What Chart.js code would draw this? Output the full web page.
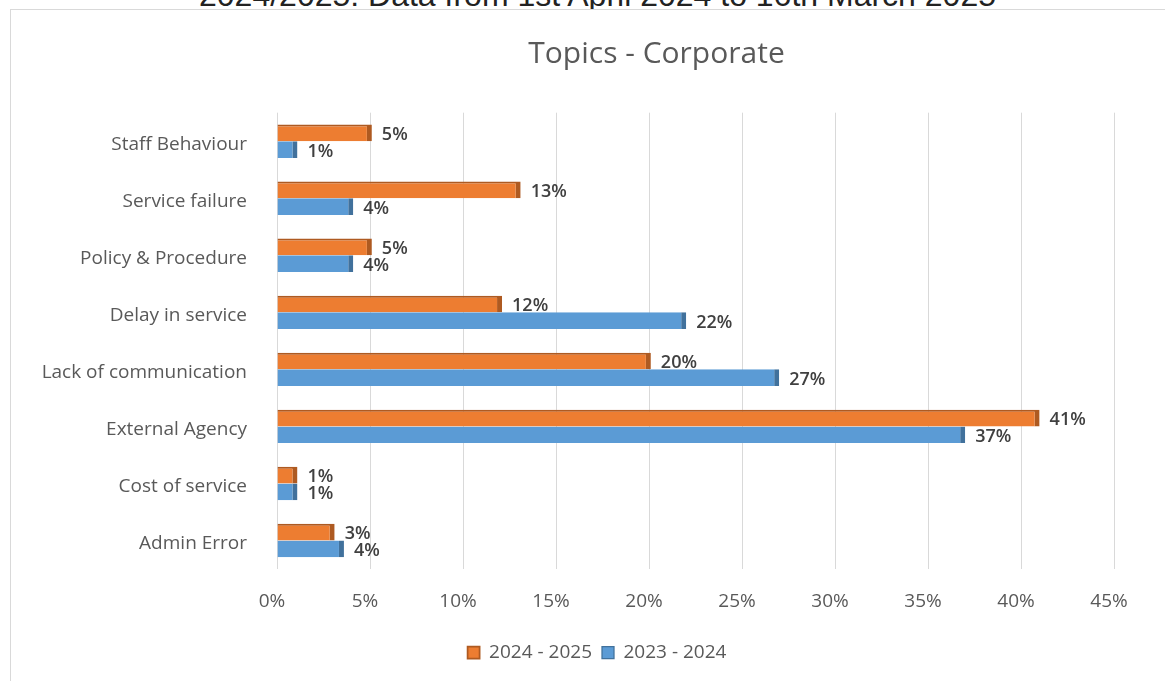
<!DOCTYPE html>
<html>
<head>
<meta charset="utf-8">
<script src="https://cdn.jsdelivr.net/npm/chart.js@4"></script>
<style>
  body { margin: 0; background: #fff; overflow: hidden; }
  #header {
    position: absolute; top: -23px; left: 0; width: 1195px;
    text-align: center; font: 32px "Liberation Sans", Arial, sans-serif; color: #222;
    white-space: nowrap;
  }
  #frame {
    position: absolute; left: 10px; top: 9px; width: 1300px; height: 690px;
    border: 1px solid #d9d9d9; background: #fff;
  }
</style>
</head>
<body>
<div id="header">2024/2025: Data from 1st April 2024 to 16th March 2025</div>
<div id="frame"><canvas id="topics" width="1291" height="672"></canvas></div>
<script>
// Topics - Corporate, share of complaints per topic
const topics = [
  'Staff Behaviour',
  'Service failure',
  'Policy & Procedure',
  'Delay in service',
  'Lack of communication',
  'External Agency',
  'Cost of service',
  'Admin Error'
];
const year2425 = [5.1, 13.1, 5.1, 12.1, 20.1, 41, 1.1, 3.1];
const year2324 = [1.1, 4.1, 4.1, 22, 27, 37, 1.1, 3.6];
const xTicks = [0, 5, 10, 15, 20, 25, 30, 35, 40, 45];

const grey = '#595959';
const uiFont = '"Open Sans", sans-serif';

// percentage labels at the end of each bar
const barLabels = {
  id: 'barLabels',
  afterDatasetsDraw(chart) {
    const ctx = chart.ctx;
    ctx.save();
    ctx.font = '600 18px ' + uiFont;
    ctx.fillStyle = '#404040';
    ctx.textBaseline = 'middle';
    chart.data.datasets.forEach((ds, i) => {
      chart.getDatasetMeta(i).data.forEach((bar, j) => {
        ctx.fillText(Math.round(ds.data[j]) + '%', bar.x + 10, bar.y + 2);
      });
    });
    ctx.restore();
  }
};

// title is centred on the whole (wider) frame, legend under the visible part
const blockShift = {
  id: 'blockShift',
  afterLayout(chart) {
    chart.titleBlock.right = chart.width;
    chart.legend.right = 1172;
  }
};

new Chart(document.getElementById('topics'), {
  type: 'bar',
  data: {
    labels: topics,
    datasets: [{
      label: '2024 - 2025',
      data: year2425,
      backgroundColor: '#ED7D31',
      borderColor: '#AE5A21',
      borderWidth: { top: 2, right: 5, bottom: 0, left: 0 },
      borderSkipped: false,
      categoryPercentage: 0.585,
      barPercentage: 1
    }, {
      label: '2023 - 2024',
      data: year2324,
      backgroundColor: '#5B9BD5',
      borderColor: '#41719C',
      borderWidth: { top: 0, right: 5, bottom: 0, left: 0 },
      borderSkipped: false,
      categoryPercentage: 0.585,
      barPercentage: 1
    }]
  },
  options: {
    indexAxis: 'y',
    responsive: false,
    animation: false,
    layout: { padding: { left: 0, right: 188, top: 0, bottom: 10 } },
    scales: {
      x: {
        min: 0,
        max: 45,
        afterBuildTicks: (scale) => { scale.ticks = xTicks.map((v) => ({ value: v })); },
        afterFit: (scale) => { scale.height = 64; },
        grid: { color: '#d9d9d9', drawTicks: false },
        border: { display: false },
        ticks: {
          padding: 21,
          labelOffset: -5,
          color: grey,
          font: { family: uiFont, size: 19 },
          callback: (v) => v + '%'
        }
      },
      y: {
        afterFit: (scale) => { scale.width = 266; },
        grid: { display: false, drawTicks: false },
        border: { display: false },
        ticks: {
          padding: 30,
          labelOffset: 3,
          color: grey,
          font: { family: uiFont, size: 19 }
        }
      }
    },
    plugins: {
      title: {
        display: true,
        text: 'Topics - Corporate',
        color: grey,
        font: { family: uiFont, size: 30, weight: 'normal' },
        padding: { top: 26.5, bottom: 40.2 }
      },
      legend: {
        position: 'bottom',
        labels: {
          color: grey,
          font: { family: uiFont, size: 19 },
          boxWidth: 12,
          boxHeight: 12,
          padding: 10
        }
      },
      tooltip: { enabled: false }
    }
  },
  plugins: [barLabels, blockShift]
});
</script>
</body>
</html>
